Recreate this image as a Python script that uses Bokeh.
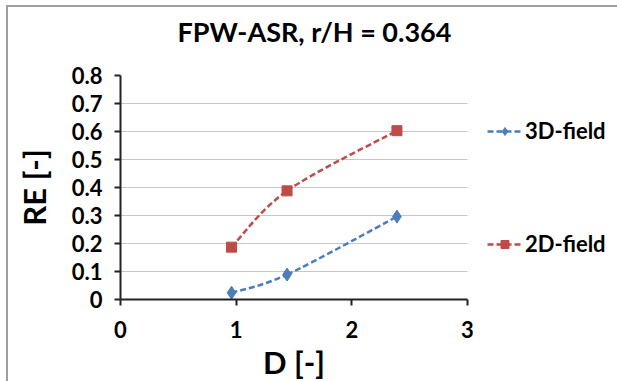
from bokeh.plotting import figure
from bokeh.models import Legend, LegendItem, FixedTicker, Range1d, Title
from bokeh.embed import file_html
from bokeh.resources import INLINE

# data
d_3d = [0.96, 1.44, 2.39]
re_3d = [0.024, 0.089, 0.296]
d_2d = [0.96, 1.44, 2.39]
re_2d = [0.187, 0.388, 0.603]
x_ticks = [0, 1, 2, 3]
y_ticks = [0, 0.1, 0.2, 0.3, 0.4, 0.5, 0.6, 0.7, 0.8]
title_text = "FPW-ASR, r/H = 0.364"

BLUE = "#4A7EBB"
RED = "#BE4B48"
FONT = "Lato"


def smooth_segments(xs, ys):
    """Catmull-Rom style bezier control points (like Excel's smoothed line)."""
    n = len(xs)
    out = dict(x0=[], y0=[], x1=[], y1=[], cx0=[], cy0=[], cx1=[], cy1=[])
    for i in range(n - 1):
        xm, ym = (xs[i - 1], ys[i - 1]) if i > 0 else (xs[i], ys[i])
        xp, yp = (xs[i + 2], ys[i + 2]) if i + 2 < n else (xs[i + 1], ys[i + 1])
        out["x0"].append(xs[i]); out["y0"].append(ys[i])
        out["x1"].append(xs[i + 1]); out["y1"].append(ys[i + 1])
        out["cx0"].append(xs[i] + (xs[i + 1] - xm) / 6)
        out["cy0"].append(ys[i] + (ys[i + 1] - ym) / 6)
        out["cx1"].append(xs[i + 1] - (xp - xs[i]) / 6)
        out["cy1"].append(ys[i + 1] - (yp - ys[i]) / 6)
    return out


p = figure(frame_width=347, frame_height=224,
           min_border_left=120, min_border_right=150,
           min_border_top=75, min_border_bottom=82,
           x_range=Range1d(0, 3), y_range=Range1d(0, 0.8),
           output_backend="svg", toolbar_location=None,
           title=None)
p.outline_line_color = None
p.background_fill_color = "white"
p.border_fill_color = None
# chart-area frame (left and top edges, as in the reference)
p.styles = {"background": (
    "linear-gradient(#A0A0A0,#A0A0A0) 6px 5px / 2px 400px no-repeat, "
    "linear-gradient(#A0A0A0,#A0A0A0) 6px 5px / 620px 2px no-repeat, white")}

# spacer between title and plot area, then the title itself
p.add_layout(Title(text=" ", text_font_size="1px", standoff=20), "above")
p.add_layout(Title(text=title_text, text_font=FONT, text_font_size="27px",
                   text_font_style="bold", align="left", offset=57,
                   standoff=10, text_color="black"), "above")

p.xgrid.grid_line_color = None
p.ygrid.grid_line_color = "#C6C6C6"
p.ygrid.grid_line_width = 1.2

for ax in (p.xaxis[0], p.yaxis[0]):
    ax.axis_line_color = "#222222"
    ax.axis_line_width = 2
    ax.major_tick_line_color = "#222222"
    ax.major_tick_line_width = 2
    ax.major_tick_out = 6
    ax.major_tick_in = 0
    ax.minor_tick_line_color = None
    ax.major_label_text_font = FONT
    ax.major_label_text_font_style = "bold"
    ax.major_label_text_font_size = "22px"
    ax.major_label_text_color = "black"
    ax.axis_label_text_font = FONT
    ax.axis_label_text_font_style = "bold"
    ax.axis_label_text_font_size = "31px"
    ax.axis_label_text_color = "black"

p.xaxis.ticker = FixedTicker(ticks=x_ticks)
p.yaxis.ticker = FixedTicker(ticks=y_ticks)
p.xaxis.major_label_standoff = 15
p.yaxis.major_label_standoff = 12
p.xaxis.axis_label = "D [-]"
p.yaxis.axis_label = "RE [-]"
p.xaxis.axis_label_standoff = 2
p.yaxis.axis_label_standoff = 16
p.yaxis.major_label_overrides = {0: "0"}

s3 = smooth_segments(d_3d, re_3d)
s2 = smooth_segments(d_2d, re_2d)
b3 = p.bezier(source=s3, x0="x0", y0="y0", x1="x1", y1="y1",
              cx0="cx0", cy0="cy0", cx1="cx1", cy1="cy1",
              line_color=BLUE, line_width=2.5, line_dash="6 3")
m3 = p.scatter(d_3d, re_3d, marker="diamond", size=13,
               fill_color=BLUE, line_color=BLUE)
b2 = p.bezier(source=s2, x0="x0", y0="y0", x1="x1", y1="y1",
              cx0="cx0", cy0="cy0", cx1="cx1", cy1="cy1",
              line_color=RED, line_width=2.5, line_dash="6 3")
m2 = p.scatter(d_2d, re_2d, marker="square", size=10,
               fill_color=RED, line_color=RED)

legend = Legend(items=[LegendItem(label="3D-field", renderers=[b3, m3]),
                       LegendItem(label="2D-field", renderers=[b2, m2])],
                location=(20, 42), orientation="vertical",
                glyph_width=35, glyph_height=20, label_height=20,
                label_standoff=3, spacing=86, padding=0, margin=0,
                border_line_color=None, background_fill_alpha=0)
legend.label_text_font = FONT
legend.label_text_font_style = "bold"
legend.label_text_font_size = "22px"
legend.label_text_color = "black"
p.add_layout(legend, "right")

open("out.html", "w").write(file_html(p, INLINE))
